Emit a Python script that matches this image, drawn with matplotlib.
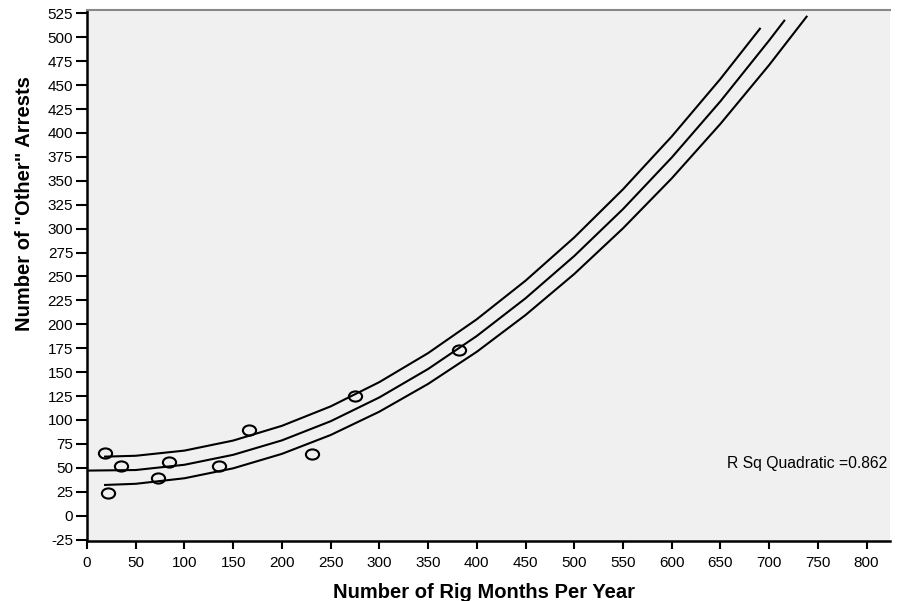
import numpy as np
import matplotlib
matplotlib.use("Agg")
import matplotlib.pyplot as plt
from matplotlib.path import Path

plt.rcParams['font.family'] = ['Liberation Sans', 'DejaVu Sans']
plt.rcParams['axes.unicode_minus'] = False

# observed points
rig_months = [18, 22, 35, 73, 84, 135, 166, 231, 275, 382]
other_arrests = [65, 24, 52, 39, 56, 52, 90, 64, 125, 173]

# curves, values
upper_x = [18.5, 50, 100, 150, 200, 250, 300, 350, 400, 450, 500, 550, 600, 650, 690.5]
upper_y = [61.7, 62.6, 68.0, 78.5, 93.9, 114.2, 139.6, 169.9, 205.3, 245.6, 290.8,
           341.1, 396.3, 456.5, 508.9]
fit_x = [0, 50, 100, 150, 200, 250, 300, 350, 400, 450, 500, 550, 600, 650, 700, 715.5]
fit_y = [47.1, 47.7, 53.2, 63.6, 78.7, 98.7, 123.6, 153.3, 187.8, 227.2, 271.4,
         320.4, 374.3, 433.1, 496.7, 517.3]
lower_x = [18.5, 50, 100, 150, 200, 250, 300, 350, 400, 450, 500, 550, 600, 650, 700, 738.4]
lower_y = [32.1, 33.3, 39.1, 49.5, 64.6, 84.3, 108.7, 137.7, 171.3, 209.7, 252.6,
           300.3, 352.5, 409.5, 471.0, 521.5]

x_ticks = np.arange(0, 801, 50)
y_ticks = np.arange(-25, 526, 25)

fig = plt.figure(figsize=(9.02, 6.01), dpi=100)
ax = fig.add_axes([0.0965, 0.0998, 0.8902, 0.8836])
ax.set_facecolor('#f0f0f0')

for xs, ys in [(upper_x, upper_y), (fit_x, fit_y), (lower_x, lower_y)]:
    ax.plot(xs, ys, color='black', linewidth=1.5)

# slightly flattened open circles
ell = Path(Path.unit_circle().vertices * [1.3, 1.0], Path.unit_circle().codes)
ax.plot(rig_months, other_arrests, linestyle='none', marker=ell, markersize=9.5,
        markerfacecolor='none', markeredgecolor='black', markeredgewidth=1.5)

ax.set_xlim(0, 824)
ax.set_ylim(-26.5, 528.5)
ax.set_xticks(x_ticks)
ax.set_yticks(y_ticks)
ax.tick_params(axis='y', direction='out', length=8, width=1.5, labelsize=11, pad=2)
ax.tick_params(axis='x', direction='out', length=6, width=1.5, labelsize=11, pad=5)

ax.spines['right'].set_visible(False)
ax.spines['top'].set_color('#888888')
ax.spines['top'].set_linewidth(1.5)
ax.spines['left'].set_linewidth(1.8)
ax.spines['bottom'].set_linewidth(1.8)

ax.set_xlabel('Number of Rig Months Per Year', fontsize=14.5, fontweight='bold')
ax.set_ylabel('Number of "Other" Arrests', fontsize=14.5, fontweight='bold')
ax.xaxis.set_label_coords(0.494, -0.079)
ax.yaxis.set_label_coords(-0.066, 0.635)

ax.text(0.996, 0.146, 'R Sq Quadratic =0.862', transform=ax.transAxes,
        ha='right', va='center', fontsize=11.3)

fig.savefig('out.png', dpi=100)
